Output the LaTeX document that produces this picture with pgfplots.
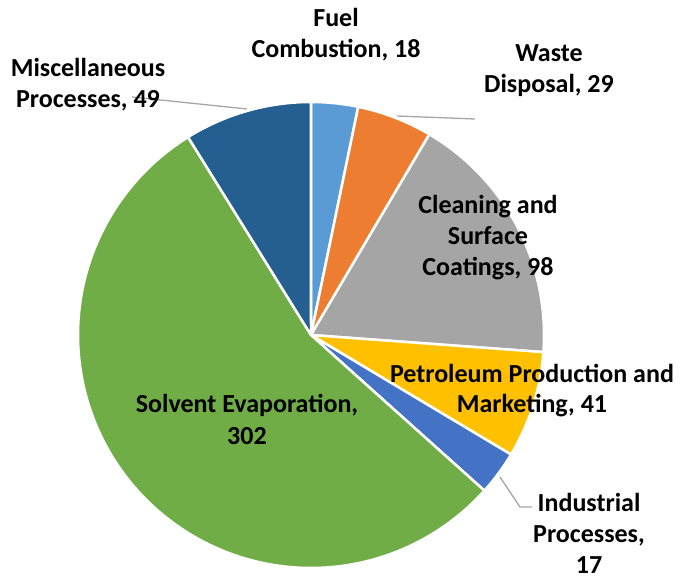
\documentclass[border=0pt]{standalone}
\usepackage{pgfplots}
\pgfplotsset{compat=1.18}
\usepackage{fontspec}
\setmainfont{Carlito}
\definecolor{cFuel}{HTML}{5B9BD5}
\definecolor{cWaste}{HTML}{ED7D31}
\definecolor{cClean}{HTML}{A5A5A5}
\definecolor{cPetro}{HTML}{FFC000}
\definecolor{cInd}{HTML}{4472C4}
\definecolor{cSolv}{HTML}{70AD47}
\definecolor{cMisc}{HTML}{255E91}
\definecolor{cLead}{HTML}{A6A6A6}
\begin{document}
\begin{tikzpicture}
% values (clockwise from 12 o'clock)
\def\vFuel{18}\def\vWaste{29}\def\vClean{98}\def\vPetro{41}\def\vInd{17}\def\vSolv{302}\def\vMisc{49}
\pgfmathsetmacro\tot{\vFuel+\vWaste+\vClean+\vPetro+\vInd+\vSolv+\vMisc}
\pgfmathsetmacro\aA{90}
\pgfmathsetmacro\aB{\aA-\vFuel/\tot*360}
\pgfmathsetmacro\aC{\aB-\vWaste/\tot*360}
\pgfmathsetmacro\aD{\aC-\vClean/\tot*360}
\pgfmathsetmacro\aE{\aD-\vPetro/\tot*360}
\pgfmathsetmacro\aF{\aE-\vInd/\tot*360}
\pgfmathsetmacro\aG{\aF-\vSolv/\tot*360}
\pgfmathsetmacro\aH{\aG-\vMisc/\tot*360}
\begin{axis}[
  width=681pt, height=581pt, scale only axis,
  xmin=0, xmax=681, ymin=0, ymax=581,
  hide axis, clip=false,
]
\path (axis cs:0,0) rectangle (axis cs:681,581);
\pgfplotsset{slice/.style={draw=white, line width=2.5pt, line join=round, samples=120, variable=\t}}
\addplot[slice, fill=cFuel,  domain=\aB:\aA] ({311+233*cos(\t)},{246+233*sin(\t)}) -- (axis cs:311,246) -- cycle;
\addplot[slice, fill=cWaste, domain=\aC:\aB] ({311+233*cos(\t)},{246+233*sin(\t)}) -- (axis cs:311,246) -- cycle;
\addplot[slice, fill=cClean, domain=\aD:\aC] ({311+233*cos(\t)},{246+233*sin(\t)}) -- (axis cs:311,246) -- cycle;
\addplot[slice, fill=cPetro, domain=\aE:\aD] ({311+233*cos(\t)},{246+233*sin(\t)}) -- (axis cs:311,246) -- cycle;
\addplot[slice, fill=cInd,   domain=\aF:\aE] ({311+233*cos(\t)},{246+233*sin(\t)}) -- (axis cs:311,246) -- cycle;
\addplot[slice, fill=cSolv,  domain=\aG:\aF] ({311+233*cos(\t)},{246+233*sin(\t)}) -- (axis cs:311,246) -- cycle;
\addplot[slice, fill=cMisc,  domain=\aH:\aG] ({311+233*cos(\t)},{246+233*sin(\t)}) -- (axis cs:311,246) -- cycle;
% leader lines
\draw[cLead, line width=1.3pt] (axis cs:132,484) -- (axis cs:247,472);
\draw[cLead, line width=1.3pt] (axis cs:397,465) -- (axis cs:475,462);
\draw[cLead, line width=1.3pt] (axis cs:500,104) -- (axis cs:520,74) -- (axis cs:532,74);
% labels
\tikzset{lab/.style={anchor=base, inner sep=0pt, font=\fontsize{26}{31}\selectfont\bfseries}}
\node[lab] at (axis cs:336,554) {Fuel};
\node[lab] at (axis cs:336,523) {Combustion, 18};
\node[lab] at (axis cs:549,519) {Waste};
\node[lab] at (axis cs:549,488) {Disposal, 29};
\node[lab] at (axis cs:88,504) {Miscellaneous};
\node[lab] at (axis cs:88,473) {Processes, 49};
\node[lab] at (axis cs:488,367) {Cleaning and};
\node[lab] at (axis cs:488,336) {Surface};
\node[lab] at (axis cs:488,305) {Coatings, 98};
\node[lab] at (axis cs:532,198) {Petroleum Production and};
\node[lab] at (axis cs:532,168) {Marketing, 41};
\node[lab] at (axis cs:589,69) {Industrial};
\node[lab] at (axis cs:589,38) {Processes,};
\node[lab] at (axis cs:589,7) {17};
\node[lab] at (axis cs:247,168) {Solvent Evaporation,};
\node[lab] at (axis cs:247,136) {302};
\end{axis}
\end{tikzpicture}
\end{document}
